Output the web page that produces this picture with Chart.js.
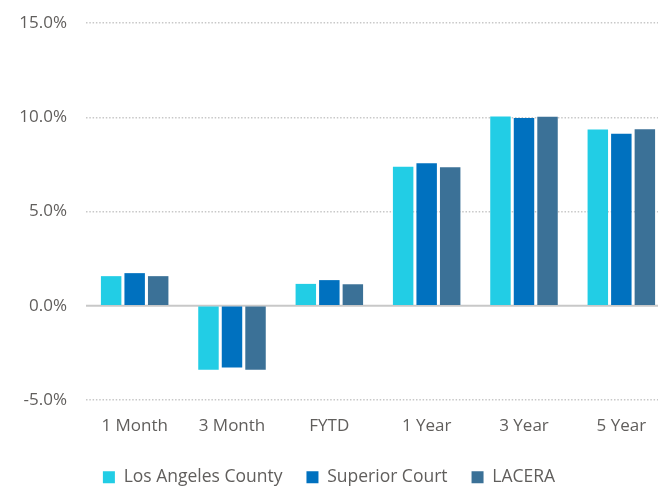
<!DOCTYPE html>
<html>
<head>
<meta charset="utf-8">
<script src="https://cdn.jsdelivr.net/npm/chart.js@4"></script>
<style>
html,body{margin:0;padding:0;background:#fff;overflow:hidden;}
#wrap{width:658px;height:487px;overflow:hidden;position:relative;}
#c{position:absolute;left:0;top:0;}
</style>
</head>
<body>
<div id="wrap"><canvas id="c" width="670" height="496"></canvas></div>
<script>
const categories = ["1 Month", "3 Month", "FYTD", "1 Year", "3 Year", "5 Year"];
const losAngelesCounty = [1.57, -3.39, 1.16, 7.38, 10.04, 9.35];
const superiorCourt = [1.73, -3.27, 1.36, 7.56, 9.96, 9.12];
const lacera = [1.57, -3.39, 1.14, 7.35, 10.03, 9.37];
const seriesNames = ["Los Angeles County", "Superior Court", "LACERA"];
const yTicks = [-5, 0, 5, 10, 15];

const textColor = "#605E5C";
const fontFamily = "'Open Sans', 'Noto Sans', sans-serif";

const zeroLine = {
  id: "zeroLine",
  beforeDatasetsDraw(chart) {
    const y = chart.scales.y.getPixelForValue(0);
    const ctx = chart.ctx;
    ctx.save();
    ctx.strokeStyle = "#C8C8C8";
    ctx.lineWidth = 2;
    ctx.beginPath();
    ctx.moveTo(chart.chartArea.left, y);
    ctx.lineTo(chart.chartArea.right, y);
    ctx.stroke();
    ctx.restore();
  }
};
const legendShift = {
  id: "legendShift",
  beforeDraw(chart) {
    chart.legend.right = 658;
  }
};

new Chart(document.getElementById("c"), {
  type: "bar",
  data: {
    labels: categories,
    datasets: [
      { label: seriesNames[0], data: losAngelesCounty, backgroundColor: "#22CDE5" },
      { label: seriesNames[1], data: superiorCourt, backgroundColor: "#0071BF" },
      { label: seriesNames[2], data: lacera, backgroundColor: "#3B7197" }
    ]
  },
  plugins: [zeroLine, legendShift],
  options: {
    responsive: false,
    animation: false,
    layout: { padding: { left: 0, right: 0, top: 23, bottom: 0 } },
    datasets: { bar: { categoryPercentage: 0.725, barPercentage: 0.87 } },
    plugins: {
      tooltip: { enabled: false },
      legend: {
        position: "bottom",
        align: "center",
        labels: {
          boxWidth: 12,
          boxHeight: 12,
          padding: 24,
          color: textColor,
          font: { family: fontFamily, size: 17.5 }
        }
      }
    },
    scales: {
      x: {
        grid: { display: false, drawTicks: false },
        border: { display: false },
        afterFit(scale) { scale.height = 44.5; },
        ticks: { color: textColor, font: { family: fontFamily, size: 17 }, padding: 16 }
      },
      y: {
        min: -5,
        max: 15,
        afterBuildTicks(scale) { scale.ticks = yTicks.map(v => ({ value: v })); },
        afterFit(scale) { scale.width = 86; scale.paddingTop = 0; scale.paddingBottom = 0; },
        grid: {
          drawTicks: false,
          color: (c) => (c.tick && c.tick.value === 0) ? "rgba(0,0,0,0)" : "#C8C8C8",
          lineWidth: 1.5
        },
        border: { display: false, dash: [1.5, 1.8] },
        ticks: {
          color: textColor,
          font: { family: fontFamily, size: 17 },
          padding: 19,
          callback: (v) => v.toFixed(1) + "%"
        }
      }
    }
  }
});
</script>
</body>
</html>
